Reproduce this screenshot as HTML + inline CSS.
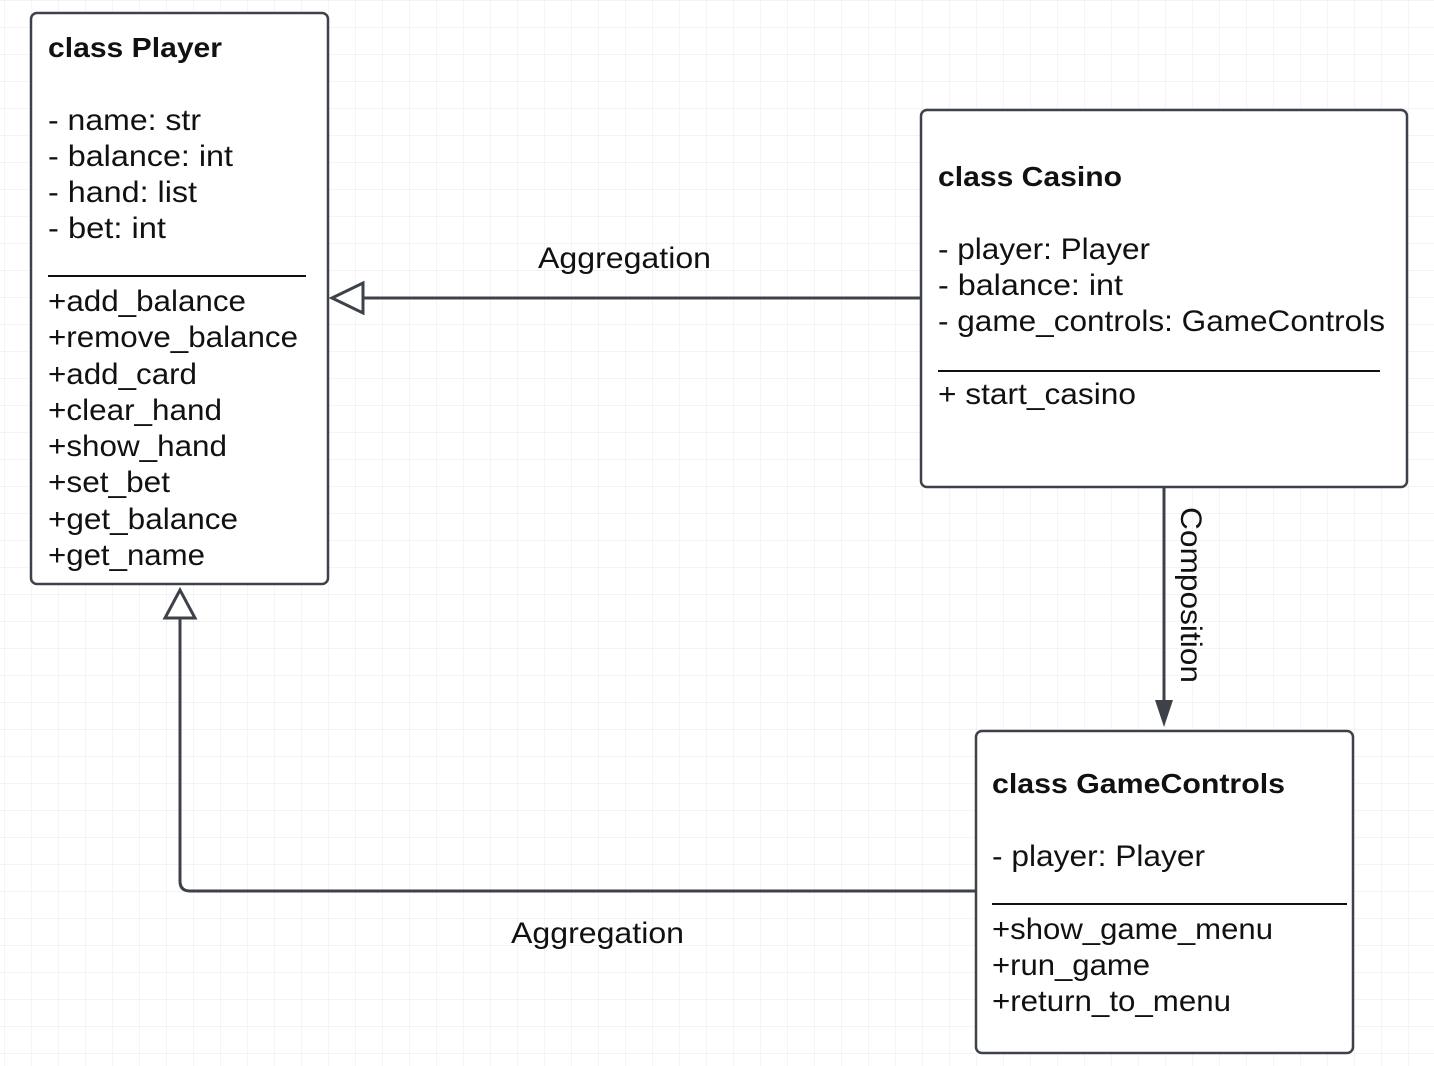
<!DOCTYPE html>
<html><head><meta charset="utf-8"><style>
html,body{margin:0;padding:0;background:#fff;}
svg{display:block;}
text{font-family:"Liberation Sans",sans-serif;font-size:30px;fill:#111;}
.b{font-weight:bold;font-size:28px;}
</style></head><body>
<svg width="1434" height="1066" viewBox="0 0 1434 1066" xmlns="http://www.w3.org/2000/svg">
<defs>
<pattern id="g" x="4" y="0" width="27" height="27" patternUnits="userSpaceOnUse">
<path d="M0 0H27M0 0V27" stroke="#e8e8e8" stroke-width="1" fill="none"/>
</pattern>
</defs>
<rect width="1434" height="1066" fill="url(#g)"/>

<g stroke="#3d424a" stroke-width="3" fill="none">
<line x1="921" y1="298" x2="363" y2="298"/>
<path d="M976 891 H190 Q180 891 180 881 V618"/>
<line x1="1164" y1="488" x2="1164" y2="702"/>
</g>
<polygon points="332,298 363,283 363,313" fill="#fff" stroke="#3d424a" stroke-width="3"/>
<polygon points="180,590 165,618 195,618" fill="#fff" stroke="#3d424a" stroke-width="3"/>
<polygon points="1155,700 1173,700 1164,727" fill="#3d424a"/>

<text x="538" y="268" textLength="173" lengthAdjust="spacingAndGlyphs">Aggregation</text>
<text x="511" y="943" textLength="173" lengthAdjust="spacingAndGlyphs">Aggregation</text>
<text transform="translate(1181,507) rotate(90)" textLength="176" lengthAdjust="spacingAndGlyphs">Composition</text>

<g fill="#fff" stroke="#3d424a" stroke-width="2.5">
<rect x="31" y="13" width="297" height="571" rx="6"/>
<rect x="921" y="110" width="486" height="377" rx="6"/>
<rect x="976" y="731" width="377" height="322" rx="6"/>
</g>
<g stroke="#111" stroke-width="2">
<line x1="48" y1="276" x2="306" y2="276"/>
<line x1="938" y1="371" x2="1380" y2="371"/>
<line x1="992" y1="904" x2="1347" y2="904"/>
</g>

<g style="font-size:30px">
<text class="b" x="48" y="57" textLength="174" lengthAdjust="spacingAndGlyphs">class Player</text>
<text x="48" y="130" textLength="153" lengthAdjust="spacingAndGlyphs">- name: str</text>
<text x="48" y="166" textLength="185" lengthAdjust="spacingAndGlyphs">- balance: int</text>
<text x="48" y="202" textLength="149" lengthAdjust="spacingAndGlyphs">- hand: list</text>
<text x="48" y="238" textLength="118" lengthAdjust="spacingAndGlyphs">- bet: int</text>
<text x="48" y="311" textLength="198" lengthAdjust="spacingAndGlyphs">+add_balance</text>
<text x="48" y="347" textLength="250" lengthAdjust="spacingAndGlyphs">+remove_balance</text>
<text x="48" y="384" textLength="149" lengthAdjust="spacingAndGlyphs">+add_card</text>
<text x="48" y="420" textLength="174" lengthAdjust="spacingAndGlyphs">+clear_hand</text>
<text x="48" y="456" textLength="179" lengthAdjust="spacingAndGlyphs">+show_hand</text>
<text x="48" y="492" textLength="122" lengthAdjust="spacingAndGlyphs">+set_bet</text>
<text x="48" y="529" textLength="190" lengthAdjust="spacingAndGlyphs">+get_balance</text>
<text x="48" y="565" textLength="157" lengthAdjust="spacingAndGlyphs">+get_name</text>

<text class="b" x="938" y="186" textLength="184" lengthAdjust="spacingAndGlyphs">class Casino</text>
<text x="938" y="259" textLength="212" lengthAdjust="spacingAndGlyphs">- player: Player</text>
<text x="938" y="295" textLength="185" lengthAdjust="spacingAndGlyphs">- balance: int</text>
<text x="938" y="331" textLength="447" lengthAdjust="spacingAndGlyphs">- game_controls: GameControls</text>
<text x="938" y="404" textLength="198" lengthAdjust="spacingAndGlyphs">+ start_casino</text>

<text class="b" x="992" y="793" textLength="293" lengthAdjust="spacingAndGlyphs">class GameControls</text>
<text x="992" y="866" textLength="213" lengthAdjust="spacingAndGlyphs">- player: Player</text>
<text x="992" y="939" textLength="281" lengthAdjust="spacingAndGlyphs">+show_game_menu</text>
<text x="992" y="975" textLength="158" lengthAdjust="spacingAndGlyphs">+run_game</text>
<text x="992" y="1011" textLength="239" lengthAdjust="spacingAndGlyphs">+return_to_menu</text>
</g>
</svg>
</body></html>
